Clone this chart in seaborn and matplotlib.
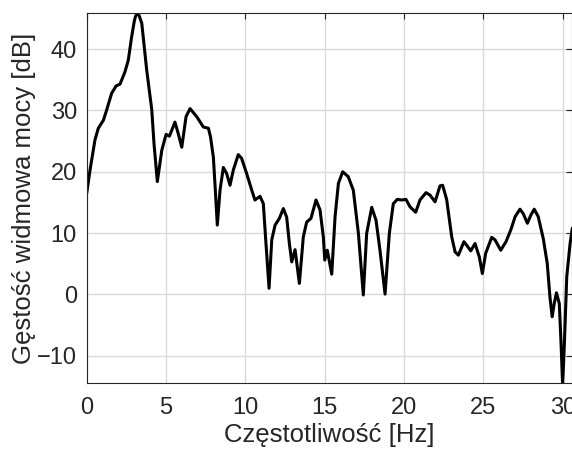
import matplotlib
matplotlib.use("Agg")
import matplotlib.pyplot as plt
import seaborn as sns
import pandas as pd

freq = [0.0, 0.21, 0.52, 0.73, 1.05, 1.26, 1.57, 1.85, 2.1, 2.41, 2.62, 2.83, 3.0, 3.08, 3.19,
        3.3, 3.47, 3.78, 4.1, 4.24, 4.45, 4.73, 5.0, 5.21, 5.56, 5.77, 5.99, 6.26, 6.51, 6.93,
        7.35, 7.67, 7.8, 7.98, 8.08, 8.23, 8.40, 8.61, 8.82, 9.03, 9.24, 9.55, 9.76, 10.08,
        10.4, 10.6, 10.92, 11.13, 11.28, 11.49, 11.66, 11.87, 12.14, 12.39, 12.6, 12.77,
        12.92, 13.13, 13.4, 13.65, 13.86, 14.13, 14.45, 14.7, 14.91, 15.0, 15.16, 15.44,
        15.65, 15.86, 16.13, 16.48, 16.8, 17.12, 17.43, 17.64, 17.96, 18.23, 18.48, 18.8,
        19.07, 19.32, 19.57, 19.85, 20.12, 20.37, 20.73, 21.0, 21.38, 21.63, 21.95, 22.26,
        22.43, 22.68, 22.9, 23.0, 23.21, 23.42, 23.77, 23.98, 24.2, 24.47, 24.74, 24.93,
        25.14, 25.52, 25.73, 26.09, 26.42, 26.72, 27.0, 27.3, 27.5, 27.77, 27.98, 28.2,
        28.45, 28.77, 29.02, 29.19, 29.33, 29.46, 29.6, 29.78, 29.89, 29.99, 30.1, 30.25,
        30.46, 30.6]
psd = [16.5, 20.3, 25.2, 27.1, 28.4, 30.1, 32.8, 34.0, 34.3, 36.3, 38.2, 42.0, 44.6, 45.4, 45.8,
       45.5, 44.2, 36.6, 30.1, 24.6, 18.4, 23.5, 26.1, 25.8, 28.1, 26.2, 24.0, 29.0, 30.3, 29.0,
       27.3, 27.1, 25.7, 22.4, 18.1, 11.3, 17.0, 20.7, 19.7, 17.8, 20.3, 22.8, 22.2, 19.7,
       17.0, 15.4, 16.0, 14.8, 8.9, 1.0, 8.9, 11.3, 12.4, 14.0, 12.6, 8.3,
       5.3, 7.3, 1.8, 9.4, 11.8, 12.4, 15.4, 13.8, 9.4, 5.6, 7.2, 3.3,
       12.7, 18.1, 20.0, 19.2, 17.0, 9.95, -0.1, 9.95, 14.2, 12.1, 7.2, 0.05,
       9.95, 14.8, 15.5, 15.4, 15.5, 14.3, 13.4, 15.4, 16.6, 16.2, 15.1, 17.7,
       17.8, 15.5, 11.3, 9.4, 6.95, 6.4, 8.6, 7.9, 7.1, 8.3, 6.1, 3.4,
       6.7, 9.3, 8.9, 7.2, 8.6, 10.5, 12.7, 13.9, 13.2, 11.6, 12.9, 13.9,
       12.7, 9.1, 5.05, -0.4, -3.65, -1.5, 0.26, -1.5, -8.0, -14.8, -8.0, 2.9,
       8.3, 10.8]
x_ticks = [0, 5, 10, 15, 20, 25, 30]
y_ticks = [-10, 0, 10, 20, 30, 40]
x_label = "Częstotliwość [Hz]"
y_label = "Gęstość widmowa mocy [dB]"

df = pd.DataFrame({"f": freq, "p": psd})

sns.set_theme(style="whitegrid")
plt.rcParams["font.family"] = ["Liberation Sans", "DejaVu Sans"]

fig = plt.figure(figsize=(5.72, 4.54), dpi=100)
ax = fig.add_axes([0.1516, 0.1557, 0.8484, 0.8157])
sns.lineplot(data=df, x="f", y="p", ax=ax, color="black", linewidth=2.2,
             estimator=None, sort=False)
ax.lines[0].set_solid_joinstyle("round")

ax.set_xlim(0, 30.58)
ax.set_ylim(-14.5, 45.9)
ax.set_xticks(x_ticks)
ax.set_yticks(y_ticks)
ax.set_xlabel(x_label, fontsize=18.5, color="#262626", labelpad=3)
ax.set_ylabel(y_label, fontsize=18.5, color="#262626", labelpad=1)
ax.tick_params(axis="both", which="both", direction="in", length=4, width=0.8,
               colors="#262626", labelsize=17, top=True, right=True)
ax.tick_params(axis="x", pad=10)
ax.tick_params(axis="y", pad=7)
ax.grid(True, color="#d9d9d9", linewidth=1.0)
for s in ax.spines.values():
    s.set_color("#262626")
    s.set_linewidth(0.8)
ax.set_facecolor("white")
fig.patch.set_facecolor("white")

fig.savefig("out.png", dpi=100, facecolor="white")
